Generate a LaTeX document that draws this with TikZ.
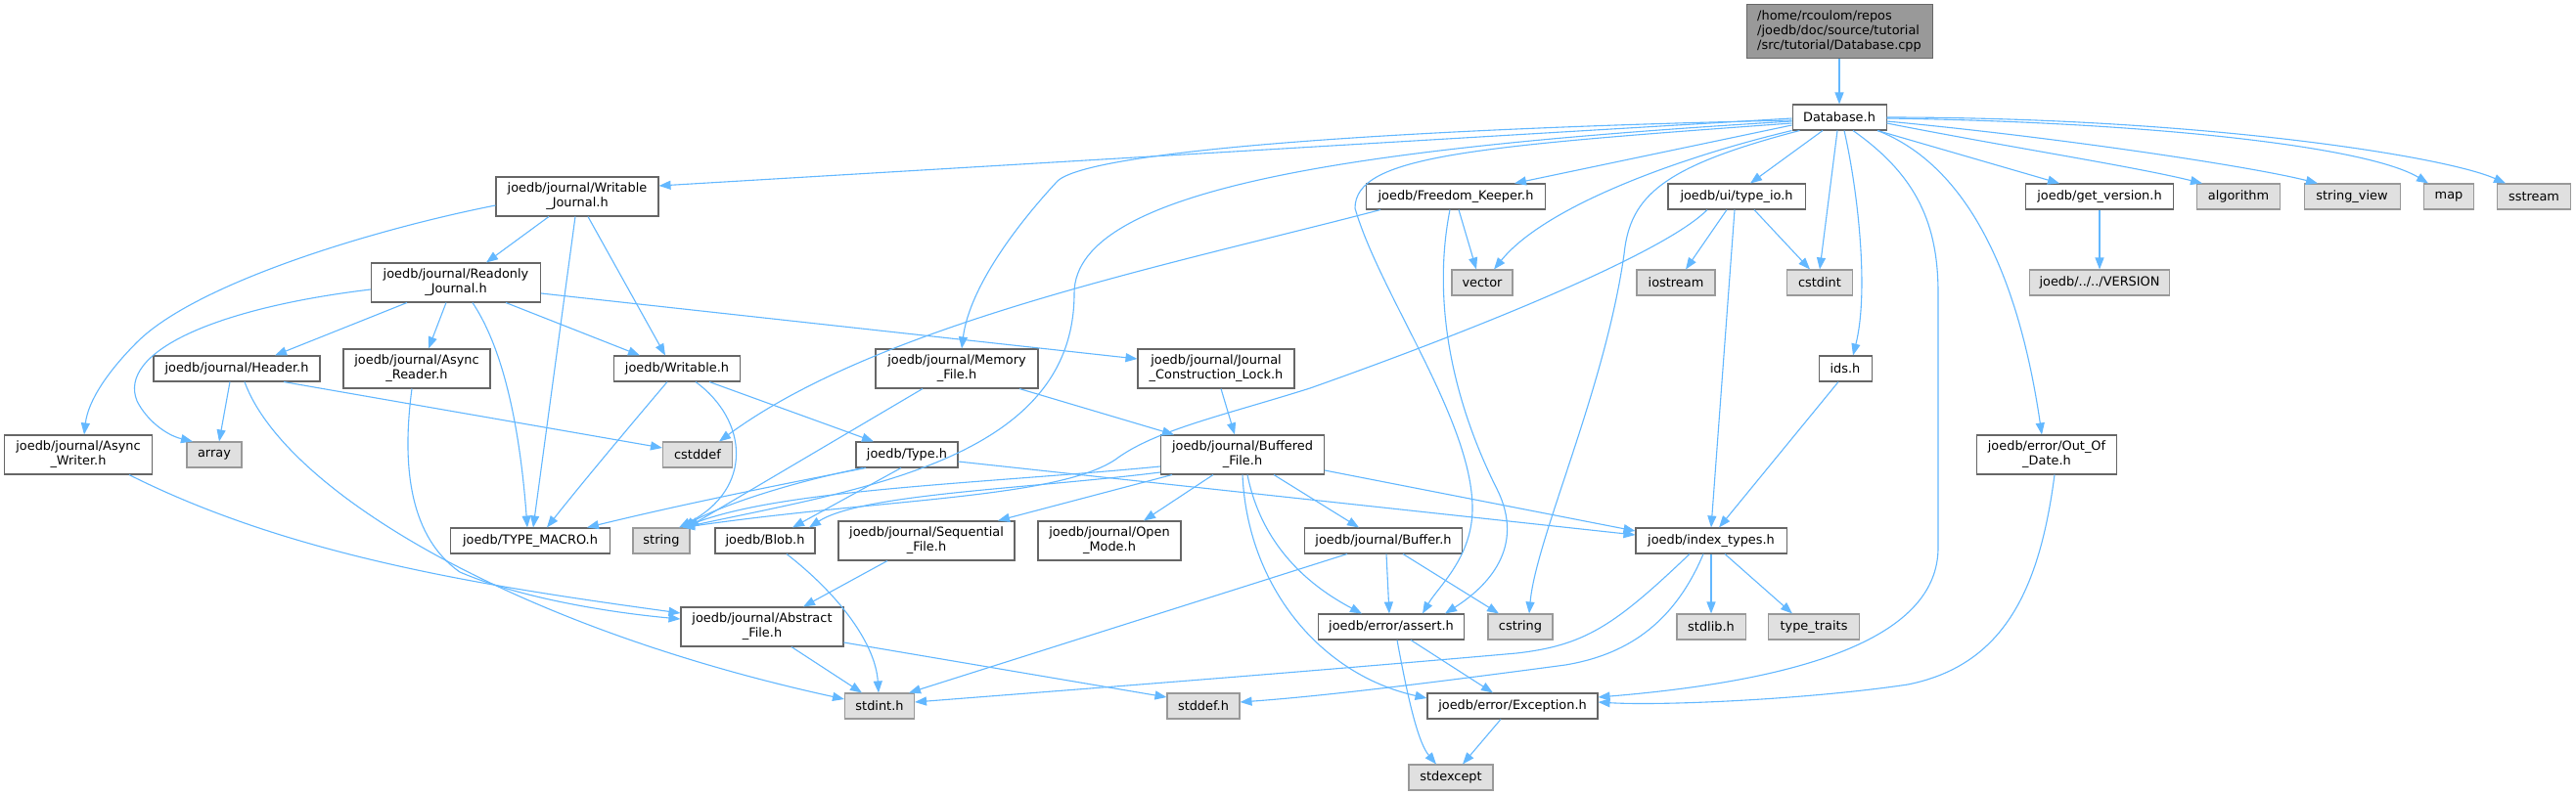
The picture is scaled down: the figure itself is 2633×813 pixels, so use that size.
\documentclass[tikz,border=0pt]{standalone}
\usepackage{fontspec}
\setmainfont{DejaVu Sans}
\usetikzlibrary{arrows.meta}
\definecolor{edgec}{HTML}{63B8FF}
\definecolor{bordc}{HTML}{666666}
\definecolor{extfill}{HTML}{E0E0E0}
\definecolor{extbord}{HTML}{999999}
\definecolor{rootfill}{HTML}{999999}
\begin{document}
\begin{tikzpicture}[x=1pt,y=-1pt,
  nd/.style={draw=bordc, fill=white, line width=1.05pt, inner sep=0pt, align=center, font=\fontsize{12.9}{14.8}\selectfont},
  ext/.style={nd, draw=extbord, fill=extfill},
  rootnd/.style={nd, fill=rootfill, align=left},
  e/.style={draw=edgec, line width=1.1pt, -{Triangle[length=12pt,width=9pt]}},
]
\useasboundingbox[fill=white] (0,0) rectangle (2633,813);
% nodes
\node[rootnd, minimum width=190pt, minimum height=55pt] (cpp) at (1880,32) {/home/rcoulom/repos\\/joedb/doc/source/tutorial\\/src/tutorial/Database.cpp};
\node[nd, minimum width=96pt, minimum height=26pt] (dbh) at (1880,120) {Database.h};
\node[nd, minimum width=166pt, minimum height=40pt] (wj) at (590,201) {joedb/journal/Writable\\\_Journal.h};
\node[nd, minimum width=183pt, minimum height=26pt] (fk) at (1488,201) {joedb/Freedom\_Keeper.h};
\node[nd, minimum width=140pt, minimum height=26pt] (tio) at (1775,201) {joedb/ui/type\_io.h};
\node[nd, minimum width=151pt, minimum height=26pt] (gv) at (2146,201) {joedb/get\_version.h};
\node[ext, minimum width=85pt, minimum height=26pt] (alg) at (2288,201) {algorithm};
\node[ext, minimum width=98pt, minimum height=26pt] (sv) at (2404,201) {string\_view};
\node[ext, minimum width=51pt, minimum height=26pt] (map) at (2503,201) {map};
\node[ext, minimum width=75pt, minimum height=26pt] (sst) at (2590,201) {sstream};
\node[nd, minimum width=173pt, minimum height=40pt] (rj) at (466,289) {joedb/journal/Readonly\\\_Journal.h};
\node[ext, minimum width=62pt, minimum height=26pt] (vec) at (1515,289) {vector};
\node[ext, minimum width=80pt, minimum height=26pt] (ios) at (1713,289) {iostream};
\node[ext, minimum width=67pt, minimum height=26pt] (cstdint) at (1860,289) {cstdint};
\node[ext, minimum width=143pt, minimum height=26pt] (ver) at (2146,289) {joedb/../../VERSION};
\node[nd, minimum width=170pt, minimum height=26pt] (hdr) at (242,377) {joedb/journal/Header.h};
\node[nd, minimum width=150pt, minimum height=40pt] (ar) at (426,377) {joedb/journal/Async\\\_Reader.h};
\node[nd, minimum width=129pt, minimum height=26pt] (wr) at (692,377) {joedb/Writable.h};
\node[nd, minimum width=166pt, minimum height=40pt] (mf) at (978,377) {joedb/journal/Memory\\\_File.h};
\node[nd, minimum width=160pt, minimum height=40pt] (jcl) at (1243,377) {joedb/journal/Journal\\\_Construction\_Lock.h};
\node[nd, minimum width=54pt, minimum height=26pt] (ids) at (1886,377) {ids.h};
\node[nd, minimum width=151pt, minimum height=40pt] (aw) at (80,465) {joedb/journal/Async\\\_Writer.h};
\node[ext, minimum width=56pt, minimum height=26pt] (arr) at (219,465) {array};
\node[ext, minimum width=71pt, minimum height=26pt] (cstddef) at (713,465) {cstddef};
\node[nd, minimum width=104pt, minimum height=26pt] (type) at (927,465) {joedb/Type.h};
\node[nd, minimum width=167pt, minimum height=40pt] (bf) at (1270,465) {joedb/journal/Buffered\\\_File.h};
\node[nd, minimum width=143pt, minimum height=40pt] (ood) at (2092,465) {joedb/error/Out\_Of\\\_Date.h};
\node[nd, minimum width=163pt, minimum height=26pt] (tm) at (542,553) {joedb/TYPE\_MACRO.h};
\node[ext, minimum width=58pt, minimum height=26pt] (str) at (676,553) {string};
\node[nd, minimum width=102pt, minimum height=26pt] (blob) at (782,553) {joedb/Blob.h};
\node[nd, minimum width=180pt, minimum height=40pt] (seq) at (947,553) {joedb/journal/Sequential\\\_File.h};
\node[nd, minimum width=146pt, minimum height=40pt] (om) at (1134,553) {joedb/journal/Open\\\_Mode.h};
\node[nd, minimum width=161pt, minimum height=26pt] (buf) at (1414,553) {joedb/journal/Buffer.h};
\node[nd, minimum width=154pt, minimum height=26pt] (it) at (1749,553) {joedb/index\_types.h};
\node[nd, minimum width=166pt, minimum height=40pt] (af) at (779,641) {joedb/journal/Abstract\\\_File.h};
\node[nd, minimum width=149pt, minimum height=26pt] (as) at (1422,641) {joedb/error/assert.h};
\node[ext, minimum width=66pt, minimum height=26pt] (cstr) at (1554,641) {cstring};
\node[ext, minimum width=70pt, minimum height=26pt] (stdlib) at (1749,641) {stdlib.h};
\node[ext, minimum width=93pt, minimum height=26pt] (tt) at (1854,641) {type\_traits};
\node[ext, minimum width=71pt, minimum height=26pt] (stdint) at (899,722) {stdint.h};
\node[ext, minimum width=74pt, minimum height=26pt] (stddef) at (1230,722) {stddef.h};
\node[nd, minimum width=174pt, minimum height=26pt] (exc) at (1546,722) {joedb/error/Exception.h};
\node[ext, minimum width=86pt, minimum height=26pt] (stdexc) at (1483,795) {stdexcept};
% edges
\draw[e] (cpp) -- (dbh);
\draw[e] ([yshift=-1pt]dbh.west) -- ([yshift=11pt]wj.east);
\draw[e] ([yshift=-3pt]dbh.west) .. controls (1500,130) and (1120,150) .. (1081,185) .. controls (1030,240) and (990,300) .. ([xshift=5pt]mf.north);
\draw[e] ([yshift=-4pt]dbh.west) .. controls (1400,150) and (1098,190) .. (1098,300) .. controls (1098,470) and (880,500) .. ([xshift=22pt]str.north);
\draw[e] ([yshift=-6pt]dbh.west) .. controls (1500,150) and (1385,160) .. (1385,213) .. controls (1410,300) and (1505,430) .. (1505,520) .. controls (1505,570) and (1470,600) .. ([xshift=32pt]as.north);
\draw[e] ([yshift=-8pt]dbh.west) -- ([xshift=60pt]fk.north);
\draw[e] (dbh.south west) .. controls (1720,160) and (1580,210) .. ([xshift=12pt]vec.north);
\draw[e] ([xshift=8pt]dbh.south west) .. controls (1700,170) and (1666,200) .. (1660,260) .. controls (1640,400) and (1570,550) .. ([xshift=9pt]cstr.north);
\draw[e] ([xshift=-17pt]dbh.south) -- ([xshift=14pt]tio.north);
\draw[e] ([xshift=-2pt]dbh.south) -- (cstdint.north);
\draw[e] ([xshift=5pt]dbh.south) .. controls (1900,200) and (1910,300) .. ([xshift=8pt]ids.north);
\draw[e] ([xshift=14pt]dbh.south) .. controls (1960,180) and (1981,230) .. (1981,300) -- (1981,560) .. controls (1981,650) and (1850,695) .. ([yshift=9pt]exc.east);
\draw[e] ([xshift=39pt]dbh.south) .. controls (2000,165) and (2060,260) .. ([xshift=-5pt]ood.north);
\draw[e] ([xshift=39pt]dbh.south) -- ([xshift=-41pt]gv.north);
\draw[e] ([yshift=-6pt]dbh.east) .. controls (2050,150) and (2180,170) .. ([xshift=-37pt]alg.north);
\draw[e] ([yshift=-4pt]dbh.east) .. controls (2100,140) and (2300,170) .. ([xshift=-35pt]sv.north);
\draw[e] ([yshift=-1pt]dbh.east) .. controls (2200,125) and (2420,150) .. ([xshift=-21pt]map.north);
\draw[e] (dbh.east) .. controls (2250,120) and (2500,160) .. ([xshift=-29pt]sst.north);
\draw[e] (gv) -- (ver);
\draw[e] ([xshift=-10pt]tio.south) -- ([xshift=10pt]ios.north);
\draw[e] ([xshift=18pt]tio.south) -- ([xshift=-10pt]cstdint.north);
\draw[e] ([xshift=-2pt]tio.south) -- (it.north);
\draw[e] ([xshift=-30pt]tio.south) .. controls (1700,260) and (1500,340) .. (1339,397) .. controls (1250,425) and (1180,440) .. (1140,470) .. controls (1080,510) and (900,510) .. ([xshift=22pt]str.north);
\draw[e] ([xshift=-7pt]ids.south) -- ([xshift=8pt]it.north);
\draw[e] ([xshift=-29pt]wj.south) -- ([xshift=31pt]rj.north);
\draw[e] ([xshift=-2pt]wj.south) -- ([xshift=3pt]tm.north);
\draw[e] ([xshift=11pt]wj.south) -- ([xshift=-12pt]wr.north);
\draw[e] ([yshift=-9pt]wj.west) .. controls (380,235) and (200,290) .. (140,350) .. controls (110,380) and (90,410) .. ([xshift=6pt]aw.north);
\draw[e] ([xshift=-50pt]rj.south) -- ([xshift=39pt]hdr.north);
\draw[e] ([xshift=-10pt]rj.south) -- ([xshift=12pt]ar.north);
\draw[e] ([xshift=51pt]rj.south) -- ([xshift=-38pt]wr.north);
\draw[e] ([xshift=17pt]rj.south) .. controls (510,350) and (530,420) .. ([xshift=-3pt]tm.north);
\draw[e] ([yshift=-7pt]rj.west) .. controls (220,315) and (120,360) .. (140,410) .. controls (150,430) and (170,445) .. ([xshift=-22pt]arr.north);
\draw[e] ([yshift=-11pt]rj.east) -- ([yshift=10pt]jcl.west);
\draw[e] ([xshift=-7pt]hdr.south) -- ([xshift=5pt]arr.north);
\draw[e] ([xshift=8pt]hdr.south) .. controls (290,500) and (520,640) .. ([yshift=7pt]stdint.west);
\draw[e] ([xshift=48pt]hdr.south) -- ([yshift=7pt]cstddef.west);
\draw[e] ([xshift=-5pt]ar.south) .. controls (410,480) and (420,550) .. (470,585) .. controls (540,615) and (640,628) .. ([yshift=8pt]af.west);
\draw[e] ([xshift=52pt]aw.south) .. controls (300,570) and (500,600) .. ([yshift=14pt]af.west);
\draw[e] ([xshift=-10pt]wr.south) .. controls (640,440) and (590,500) .. ([xshift=17pt]tm.north);
\draw[e] ([xshift=19pt]wr.south) .. controls (765,430) and (770,500) .. ([xshift=18pt]str.north);
\draw[e] ([xshift=33pt]wr.south) -- ([xshift=-34pt]type.north);
\draw[e] ([xshift=-77pt]fk.south) .. controls (1200,270) and (900,330) .. ([xshift=22pt]cstddef.north);
\draw[e] ([xshift=-6pt]fk.south) .. controls (1465,300) and (1480,400) .. (1530,500) .. controls (1560,560) and (1520,600) .. ([xshift=55pt]as.north);
\draw[e] ([xshift=3pt]fk.south) -- ([xshift=-6pt]vec.north);
\draw[e] ([xshift=-35pt]mf.south) -- ([xshift=-3pt]str.north east);
\draw[e] ([xshift=64pt]mf.south) -- ([xshift=-70pt]bf.north);
\draw[e] ([xshift=5pt]jcl.south) -- ([xshift=-8pt]bf.north);
\draw[e] ([xshift=-42pt]type.south) .. controls (800,495) and (700,515) .. ([xshift=58pt]tm.north);
\draw[e] ([xshift=-45pt]type.south) .. controls (800,495) and (730,520) .. ([xshift=22pt]str.north);
\draw[e] ([xshift=-6pt]type.south) -- ([xshift=28pt]blob.north);
\draw[e] ([yshift=-7pt]type.east) -- ([yshift=6pt]it.west);
\draw[e] ([yshift=-12pt]bf.west) .. controls (1000,495) and (800,500) .. ([xshift=22pt]str.north);
\draw[e] ([yshift=-18pt]bf.west) .. controls (1050,500) and (880,505) .. ([xshift=45pt]blob.north);
\draw[e] ([xshift=-72pt]bf.south) -- ([xshift=73pt]seq.north);
\draw[e] ([xshift=-30pt]bf.south) -- ([xshift=35pt]om.north);
\draw[e] ([xshift=32pt]bf.south) -- ([xshift=-25pt]buf.north);
\draw[e] ([xshift=5pt]bf.south) .. controls (1290,560) and (1340,600) .. ([xshift=-30pt]as.north);
\draw[e] (bf.south) .. controls (1275,600) and (1350,690) .. ([yshift=8pt]exc.west);
\draw[e] ([yshift=-16pt]bf.east) -- ([yshift=10pt]it.west);
\draw[e] ([xshift=-40pt]seq.south) -- ([xshift=42pt]af.north);
\draw[e] ([xshift=22pt]blob.south) .. controls (860,610) and (895,660) .. ([xshift=-1pt]stdint.north);
\draw[e] ([xshift=-37pt]buf.south) -- ([xshift=30pt]stdint.north);
\draw[e] ([xshift=3pt]buf.south) -- ([xshift=-2pt]as.north);
\draw[e] ([xshift=20pt]buf.south) -- ([xshift=-22pt]cstr.north);
\draw[e] ([xshift=-22pt]it.south) .. controls (1650,640) and (1620,660) .. (1550,668) .. controls (1300,690) and (1100,705) .. ([yshift=4pt]stdint.east);
\draw[e] ([xshift=-8pt]it.south) .. controls (1710,640) and (1660,670) .. (1600,680) .. controls (1450,700) and (1350,712) .. ([yshift=4pt]stddef.east);
\draw[e] (it.south) -- (stdlib.north);
\draw[e] ([xshift=14pt]it.south) -- ([xshift=-22pt]tt.north);
\draw[e] ([xshift=30pt]af.south) -- ([xshift=-18pt]stdint.north);
\draw[e] ([yshift=-16pt]af.east) -- ([yshift=9pt]stddef.west);
\draw[e] ([xshift=20pt]as.south) -- ([xshift=-20pt]exc.north);
\draw[e] ([xshift=6pt]as.south) .. controls (1440,720) and (1450,760) .. ([xshift=-15pt]stdexc.north);
\draw[e] ([xshift=-12pt]exc.south) -- ([xshift=12pt]stdexc.north);
\draw[e] ([xshift=8pt]ood.south) .. controls (2085,600) and (2050,680) .. (1950,700) .. controls (1850,715) and (1700,722) .. ([yshift=4pt]exc.east);
\end{tikzpicture}
\end{document}
